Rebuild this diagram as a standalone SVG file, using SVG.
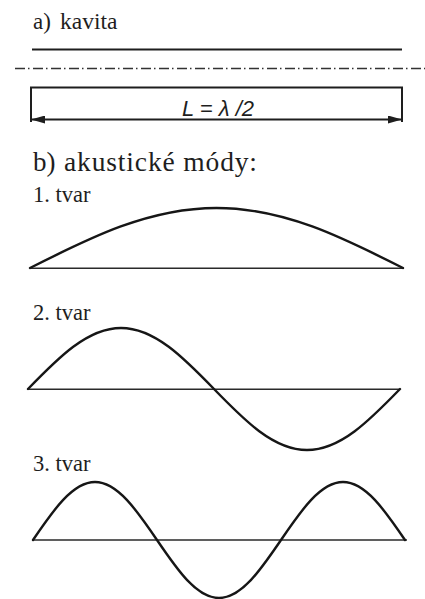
<svg xmlns="http://www.w3.org/2000/svg" width="425" height="599" viewBox="0 0 425 599">
<defs>
<style>
.lbl{fill:#1e1e1e}
.ax{stroke:#2a2a2a;stroke-width:1.6;fill:none}
.wave{stroke:#161616;stroke-width:2.4;fill:none;stroke-linecap:round;stroke-linejoin:round}
.ln{stroke:#1e1e1e;stroke-width:2;fill:none}
</style>
<marker id="arr" viewBox="0 0 14 8" refX="14" refY="4" markerWidth="14" markerHeight="8" markerUnits="userSpaceOnUse" orient="auto-start-reverse">
<path d="M0,0 L14,4 L0,8 Z" fill="#1e1e1e"/>
</marker>
</defs>
<rect width="425" height="599" fill="#ffffff"/>

<g id="kavita" font-family="'Liberation Serif','Times New Roman',serif">
<text class="lbl" x="33" y="28.5" font-size="23">a)</text>
<text class="lbl" x="60" y="28.5" font-size="23.5">kavita</text>
<line class="ln" x1="32" y1="49.5" x2="402" y2="49.5"/>
<line x1="15" y1="68.5" x2="425" y2="68.5" stroke="#333" stroke-width="1.5" stroke-dasharray="10 3 1.5 3.5"/>
</g>

<g id="length">
<polyline class="ln" points="31,122 31,87.5 402,87.5 402,122" stroke-width="1.8"/>
<text x="218" y="116" font-family="'Liberation Sans',Arial,sans-serif" font-style="italic" font-size="22" text-anchor="middle" fill="#1e1e1e">L = λ /2</text>
</g>

<g id="connectors">
<line class="ln" x1="31" y1="119.5" x2="402" y2="119.5" marker-start="url(#arr)" marker-end="url(#arr)"/>
</g>

<g id="modes-title" font-family="'Liberation Serif','Times New Roman',serif">
<text class="lbl" x="33" y="171" font-size="27">b)</text>
<text class="lbl" x="64" y="171" font-size="27.5" textLength="193" lengthAdjust="spacing">akustické módy:</text>
</g>

<g id="mode1" font-family="'Liberation Serif','Times New Roman',serif">
<text class="lbl" x="33" y="201.5" font-size="22.5">1. tvar</text>
<line class="ax" x1="30" y1="268.3" x2="404" y2="268.3"/>
<path class="wave" d="M30,268 C90.8,237.3 149.1,208 216.5,208 C283.9,208 342.2,237.3 403,268"/>
</g>

<g id="mode2" font-family="'Liberation Serif','Times New Roman',serif">
<text class="lbl" x="33" y="320" font-size="22.5">2. tvar</text>
<line class="ax" x1="27" y1="389.3" x2="400" y2="389.3"/>
<path class="wave" d="M28,389 C58.3,357.75 87.4,328 121,328 C154.6,328 183.7,357.75 214,389 C244.3,420.25 273.4,450 307,450 C340.6,450 369.7,420.25 400,389"/>
</g>

<g id="mode3" font-family="'Liberation Serif','Times New Roman',serif">
<text class="lbl" x="33" y="470.5" font-size="22.5">3. tvar</text>
<line class="ax" x1="32" y1="540" x2="407" y2="540"/>
<path class="wave" d="M33,540 C53.2,510.3 72.6,482 95,482 C117.4,482 136.8,510.3 157,540 C177.2,569.7 196.6,598 219,598 C241.4,598 260.8,569.7 281,540 C301.2,510.3 320.6,482 343,482 C365.4,482 384.8,510.3 405,540"/>
</g>
</svg>
